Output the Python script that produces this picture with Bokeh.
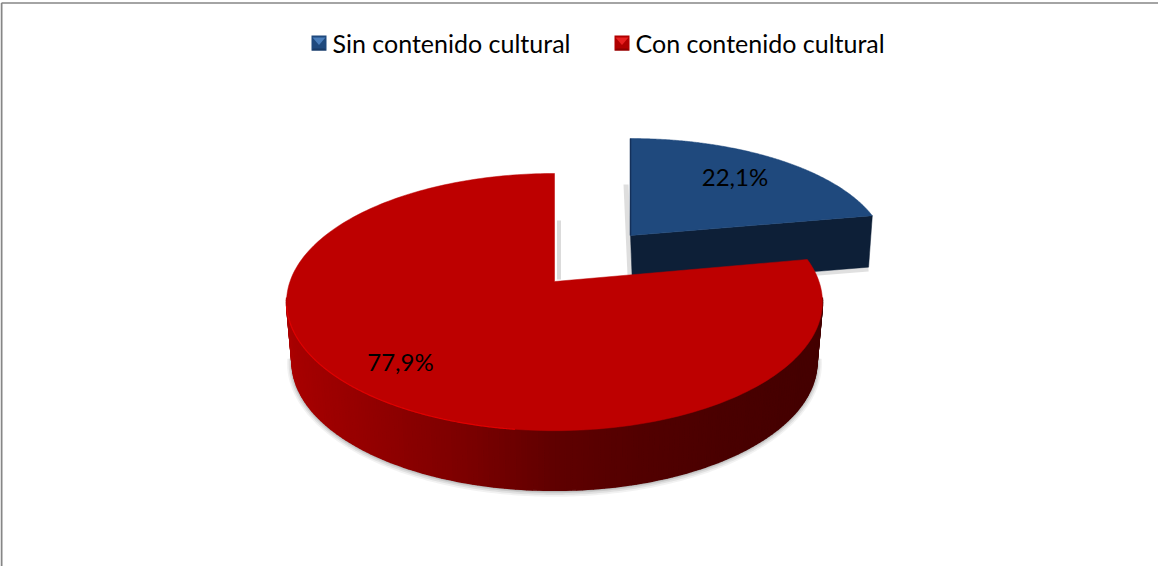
import math
from bokeh.plotting import figure
from bokeh.models import Range1d
from bokeh.embed import file_html
from bokeh.resources import INLINE
from bokeh.core.properties import value

categories = ["Sin contenido cultural", "Con contenido cultural"]
shares = [22.1, 77.9]
slice_colors = ["#1f497d", "#bd0000"]

W, H = 1158, 566
p = figure(width=W, height=H, output_backend="svg", toolbar_location=None,
           x_range=Range1d(8, 8 + W), y_range=Range1d(8 + H, 8),
           min_border=0, outline_line_color=None, background_fill_color="white",
           border_fill_color="white")
p.axis.visible = False
p.grid.visible = False

K = 0.16  # perspective strength


def pt(cx, cy, A, B, frac):
    """Position on a tilted disc, frac = share of the full turn clockwise from 12 o'clock."""
    t = 2 * math.pi * frac
    u, v = math.sin(t), math.cos(t)
    w = 1 + K * v
    return cx + A * u / w, cy - B * v / w


def arc(cx, cy, A, B, f0, f1, n=240):
    pts = [pt(cx, cy, A, B, f0 + (f1 - f0) * i / n) for i in range(n + 1)]
    return [q[0] for q in pts], [q[1] for q in pts]


def lerp(stops, x):
    for (x0, c0), (x1, c1) in zip(stops, stops[1:]):
        if x <= x1:
            f = max(0, (x - x0) / (x1 - x0))
            return "#%02x%02x%02x" % tuple(round(a + (b - a) * f) for a, b in zip(c0, c1))
    return "#%02x%02x%02x" % stops[-1][1]


blue_frac = shares[0] / sum(shares)

# frame
p.line([9, 9], [8 + H, 10.5], line_color="#868686", line_width=2)
p.line([9, 8 + W], [10.5, 10.5], line_color="#868686", line_width=1.5)

# --- blue slice (exploded, further back)
bx, by, bA, bB = 638, 243, 253, 112.5
bx2, by2, bA2, bB2 = 640, 294, 247, 110
ax, ay = arc(bx, by, bA, bB, 0, blue_frac)
cx_, cy_ = pt(bx2, by2, bA2, bB2, blue_frac)
# soft shadow at the left and under the side
p.line([633.5, 637.5], [192, 283], line_color="#000000", line_alpha=0.13, line_width=5)
p.line([641, 876], [296, 277], line_color="#000000", line_alpha=0.12, line_width=4)
# side wall
p.patch([bx, ax[-1], cx_, bx2], [by, ay[-1], cy_, by2], fill_color="#0d1f37",
        line_color="#0d1f37", line_width=0.5)
# top
p.patch([bx] + ax, [by] + ay, fill_color=slice_colors[0], line_color=slice_colors[0], line_width=0.5)
p.line([ax[0], bx], [ay[0], by], line_color="#14305a", line_width=1.5)

# --- red slice
rx, ry, rA, rB = 562, 289, 264.5, 125.3
lx, ly, lA, lB = 562, 349, 259, 125
front0, front1 = 0.27, 0.73

# drop shadow under the pie (front half only)
for grow, alpha in [(5, 0.05), (3.5, 0.07), (2, 0.09), (0.8, 0.12)]:
    sx, sy = arc(lx, ly + 0.5, lA + grow, lB + grow, front0, front1)
    p.patch(sx, sy, fill_color="#000000", fill_alpha=alpha, line_color=None)
p.line([566.5, 566.5], [228, 287], line_color="#000000", line_alpha=0.14, line_width=4)

# curved wall, one shaded strip per step
stops = [(285, (0xb0, 0, 0)), (300, (0xa6, 0, 0)), (380, (0x92, 0, 0)), (470, (0x7c, 0, 0)),
         (560, (0x60, 0, 0)), (650, (0x52, 0, 0)), (730, (0x4a, 0, 0)), (830, (0x44, 0, 0))]
n = 160
tx, ty = arc(rx, ry, rA, rB, front0, front1, n)
gx, gy = arc(lx, ly, lA, lB, front0, front1, n)
xs, ys, cols = [], [], []
for i in range(n):
    xs.append([tx[i], tx[i + 1], gx[i + 1], gx[i]])
    ys.append([ty[i], ty[i + 1], gy[i + 1], gy[i]])
    cols.append(lerp(stops, (tx[i] + tx[i + 1]) / 2))
p.patches(xs, ys, fill_color=cols, line_color=cols, line_width=1.6)

# top face
ax, ay = arc(rx, ry, rA, rB, blue_frac, 1)
p.patch([rx] + ax, [ry] + ay, fill_color=slice_colors[1], line_color=slice_colors[1], line_width=0.5)
# bright rim along the front
hx, hy = arc(rx, ry, rA, rB, 0.5 + 0.02, 0.5 + 0.22)
p.line(hx, hy, line_color="#e00000", line_width=1.2)

# labels
fmt = lambda v: f"{v:.1f}%".replace(".", ",")
p.text([742.5], [184], text=[fmt(shares[0])], text_font=value("Lato"), text_font_size="24px",
       text_color="#000000", text_align="center", text_baseline="middle")
p.text([408], [369], text=[fmt(shares[1])], text_font=value("Lato"), text_font_size="24px",
       text_color="#000000", text_align="center", text_baseline="middle")

# legend
for mx, base, light, low, txt in [
    (326.5, slice_colors[0], "#4a7ebb", "#183a66", categories[0]),
    (629.5, "#b00000", "#e82020", "#8c0000", categories[1]),
]:
    s = 7.5
    my = 50.5
    p.patch([mx - s, mx + s, mx + s, mx - s], [my - s, my - s, my + s, my + s], fill_color=base, line_color=None)
    p.patch([mx - s + 1, mx + s - 1, mx], [my - s + 2, my - s + 2, my + 2], fill_color=light, line_color=None)
    p.patch([mx - s, mx + s, mx + s - 2, mx - s + 2], [my + s, my + s, my + s - 2, my + s - 2],
            fill_color=low, line_color=None)
    p.text([mx + 13.5], [50], text=[txt], text_font=value("Lato"), text_font_size="25px",
           text_color="#000000", text_align="left", text_baseline="middle")

open("out.html", "w").write(file_html(p, INLINE))
